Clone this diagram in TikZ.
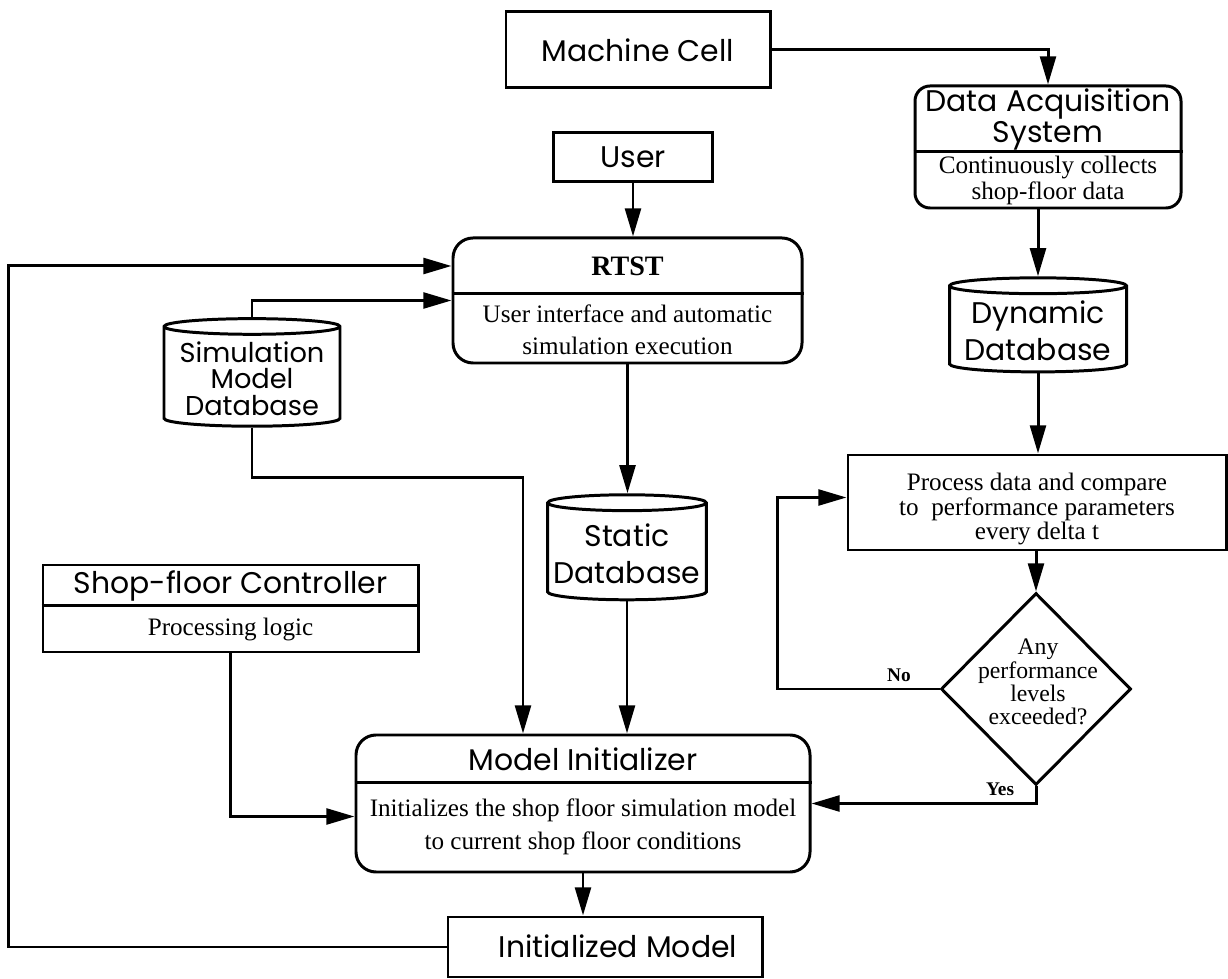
\documentclass[tikz,border=0pt]{standalone}
\usepackage{fontspec}
\setmainfont{Liberation Serif}
\newfontfamily\gothic{Poppins}
\usetikzlibrary{positioning,shapes.geometric,arrows.meta,calc}

\begin{document}
\begin{tikzpicture}[x=0.2mm, y=-0.2mm, >={Triangle[length=16pt,width=9pt]}, line width=1.7pt,
    box/.style={draw, rectangle},
    rbox/.style={draw, rectangle, rounded corners=4mm},
    db/.style={draw, cylinder, shape border rotate=90, aspect=0.1, align=center, font=\gothic\fontsize{17}{21}\selectfont},
    sans/.style={align=center, font=\gothic\fontsize{17}{16}\selectfont},
    body/.style={align=center, font=\fontsize{14.3}{15}\selectfont},
    yn/.style={font=\bfseries\fontsize{11}{12}\selectfont}]
        \useasboundingbox (0,0) rectangle (1228,979);

        % Nodes
        \node[box, sans, minimum width=52.8mm, minimum height=15.2mm] (machine) at (638,50) {Machine Cell};
        \node[box, sans, minimum width=31.8mm, minimum height=9.8mm] (user) at (633,157.5) {User};

        \node[rbox, minimum width=69.8mm, minimum height=25mm] (rtst) at (627.5,300.5) {};
        \node[font=\bfseries\fontsize{16}{18}\selectfont] (rtst-title) at (627.5,266.5) {RTST};
        \node[body, font=\fontsize{14.3}{18.5}\selectfont] (rtst-body) at (627.5,330) {User interface and automatic\\simulation execution};
        \draw ([yshift=-11.4mm]rtst.north west) -- ([yshift=-11.4mm]rtst.north east);

        \node[rbox, rounded corners=3mm, minimum width=53.2mm, minimum height=24.4mm] (das) at (1048,147) {};
        \node[sans] (das-title) at (1048,119.5) {Data Acquisition\\System};
        \node[body, font=\fontsize{14.3}{14.5}\selectfont] (das-body) at (1048,180.5) {Continuously collects\\shop-floor data};
        \draw ([yshift=-13.4mm]das.north west) -- ([yshift=-13.4mm]das.north east);

        \node[db, font=\gothic\fontsize{15.5}{15}\selectfont, minimum width=35.2mm, minimum height=21.4mm] (simdb) at (252,378.5) {Simulation\\Model\\Database};
        \node[db, minimum width=31.6mm, minimum height=21mm] (static) at (627,553.5) {Static\\Database};
        \node[db, minimum width=35.4mm, minimum height=18.4mm] (dyn) at (1038,331) {Dynamic\\Database};

        \node[box, minimum width=75.6mm, minimum height=19mm] (proc) at (1037,502.5) {};
        \node[body, font=\fontsize{14.3}{13.8}\selectfont] (proc-txt) at (1037,509) {Process data and compare\\to\ \ performance parameters\\every delta t};
        \node[draw, diamond, minimum width=38mm, minimum height=38.4mm, inner sep=0pt] (dec) at (1036,689) {};
        \node[body, font=\fontsize{13.5}{13.2}\selectfont] (dec-txt) at (1038,682) {Any\\performance\\levels\\exceeded?};

        \node[box, minimum width=75mm, minimum height=17.4mm] (sfc) at (230.5,608.5) {};
        \node[sans] (sfc-title) at (230.5,586) {Shop-floor Controller};
        \node[body] (sfc-body) at (230.5,629.5) {Processing logic};
        \draw ([yshift=-8.4mm]sfc.north west) -- ([yshift=-8.4mm]sfc.north east);

        \node[rbox, minimum width=90.8mm, minimum height=27.4mm] (mi) at (583,803.5) {};
        \node[sans] (mi-title) at (583,759.5) {Model Initializer};
        \node[body, font=\fontsize{14.3}{18.5}\selectfont] (mi-body) at (583,827) {Initializes the shop floor simulation model\\to current shop floor conditions};
        \draw ([yshift=-9.8mm]mi.north west) -- ([yshift=-9.8mm]mi.north east);

        \node[box, minimum width=62.8mm, minimum height=12mm] (im) at (605,947) {};
        \node[sans] (im-txt) at (618,946) {Initialized Model};

        % Arrows
        \draw[->] (machine.east) -| (das.north);
        \draw[->] (user.south) -- (user.south |- rtst.north);
        \draw[->] (im.west) -- ++(-438,0) |- ([yshift=6.9mm]rtst.west);
        \draw[->] (simdb.north) |- (rtst.west);
        \draw[->] (rtst.south) -- (rtst.south |- static.north);
        \draw[->] (simdb.south) -- ++(0,50) -| ([xshift=-12mm]mi.north);
        \draw[->] (static.south) -- (static.south |- mi.north);
        \draw[->] (sfc.south) |- ([yshift=-2.6mm]mi.west);
        \draw[->] (das.south -| dyn.north) -- (dyn.north);
        \draw[->] (dyn.south) -- (dyn.south |- proc.north);
        \draw[->] (proc.south -| dec.north) -- (dec.north);
        \draw[->] (dec.west) -- node[yn, above, pos=0.25] (no) {No} ++(-162,0) |- ([yshift=1mm]proc.west);
        \draw[->] (dec.south) |- node[yn, above, pos=0.58] (yes) {Yes} (mi.east);
        \draw[->] (mi.south) -- (mi.south |- im.north);
    \end{tikzpicture}
\end{document}
